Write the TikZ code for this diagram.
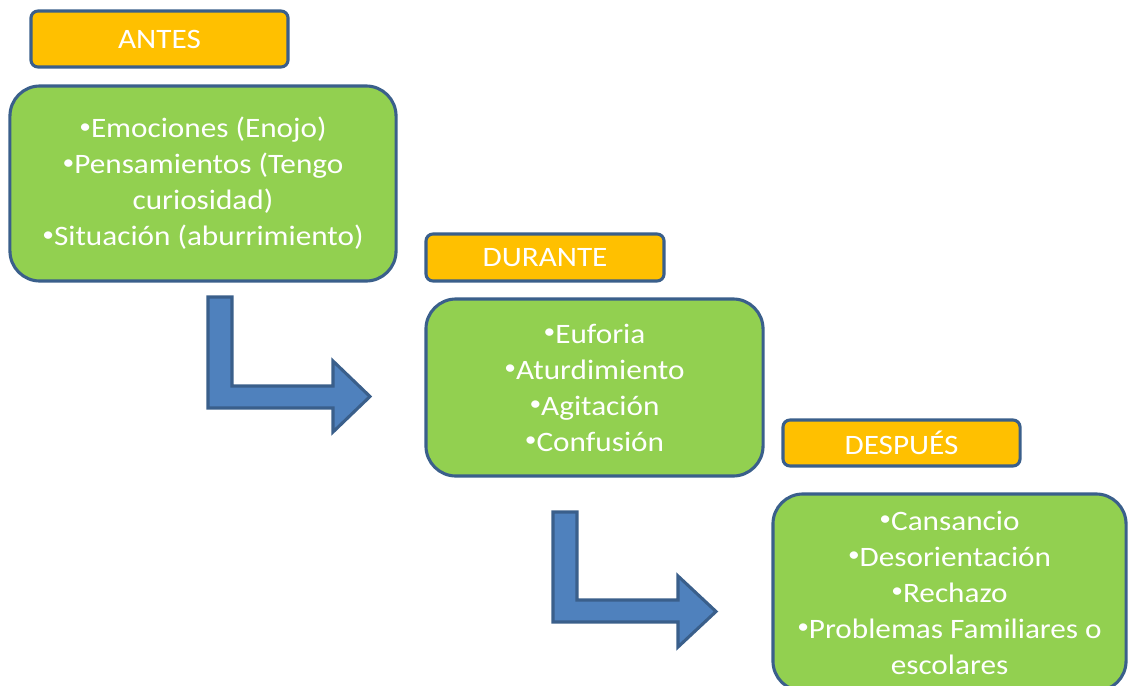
\documentclass[tikz,border=0pt]{standalone}
\usepackage{fontspec}
\setmainfont{Carlito}[FakeStretch=1.11]
\usepackage{tikz}
\usetikzlibrary{positioning}
\usepackage{xcolor}
\definecolor{labelfill}{HTML}{FFC000}
\definecolor{boxfill}{HTML}{92D050}
\definecolor{edge}{HTML}{3A5F8B}
\definecolor{arrowfill}{HTML}{4F81BD}
\newcommand{\itembullet}{\raisebox{0.16em}{\scalebox{0.75}{•}}}

\begin{document}
\begin{tikzpicture}[
  x=0.025cm, y=-0.025cm,
  every node/.style={font=\fontsize{20}{25.6}\selectfont, text=white},
  phase/.style={draw=edge, fill=labelfill, line width=2.2pt, rounded corners=5pt,
                minimum height=1.4cm, inner sep=0pt},
  content/.style={draw=edge, fill=boxfill, line width=2.2pt, rounded corners=0.75cm,
                  align=center, inner sep=0pt},
  bent/.style={draw=edge, fill=arrowfill, line width=2.2pt, line join=miter}
]
  \useasboundingbox (0,0) rectangle (1128,685);
  \clip (0,0) rectangle (1128,685);

  % Phase labels
  \node[phase, minimum width=6.425cm] (antes)   at (159.5, 39)  {ANTES};
  \node[phase, minimum width=5.95cm, minimum height=1.175cm] (durante) at (545, 257.5) {DURANTE};
  \node[phase, minimum width=5.925cm, minimum height=1.15cm]  (despues) at (901.5, 443) {DESPUÉS};

  % Contents
  \node[content, minimum width=9.65cm, minimum height=4.875cm] (c1) at (203, 183.5)
    {\itembullet Emociones (Enojo)\\\itembullet Pensamientos (Tengo\\curiosidad)\\\itembullet Situación (aburrimiento)};
  \node[content, minimum width=8.425cm, minimum height=4.425cm] (c2) at (594.5, 387.5)
    {\itembullet Euforia\\\itembullet Aturdimiento\\\itembullet Agitación\\\itembullet Confusión};
  \node[content, minimum width=8.825cm, minimum height=4.925cm] (c3) at (949.5, 592.5)
    {\itembullet Cansancio\\\itembullet Desorientación\\\itembullet Rechazo\\\itembullet Problemas Familiares o\\escolares};

  % Bent arrows
  \draw[bent, shift={(208,297)}] (0,0) -- (24,0) -- (24,89) -- (125,89) -- (125,64)
    -- (162,99.5) -- (125,135) -- (125,111) -- (0,111) -- cycle;
  \draw[bent, shift={(553,512)}] (0,0) -- (24,0) -- (24,88) -- (125,88) -- (125,64)
    -- (163,99.5) -- (125,135) -- (125,110) -- (0,110) -- cycle;

\end{tikzpicture}
\end{document}
